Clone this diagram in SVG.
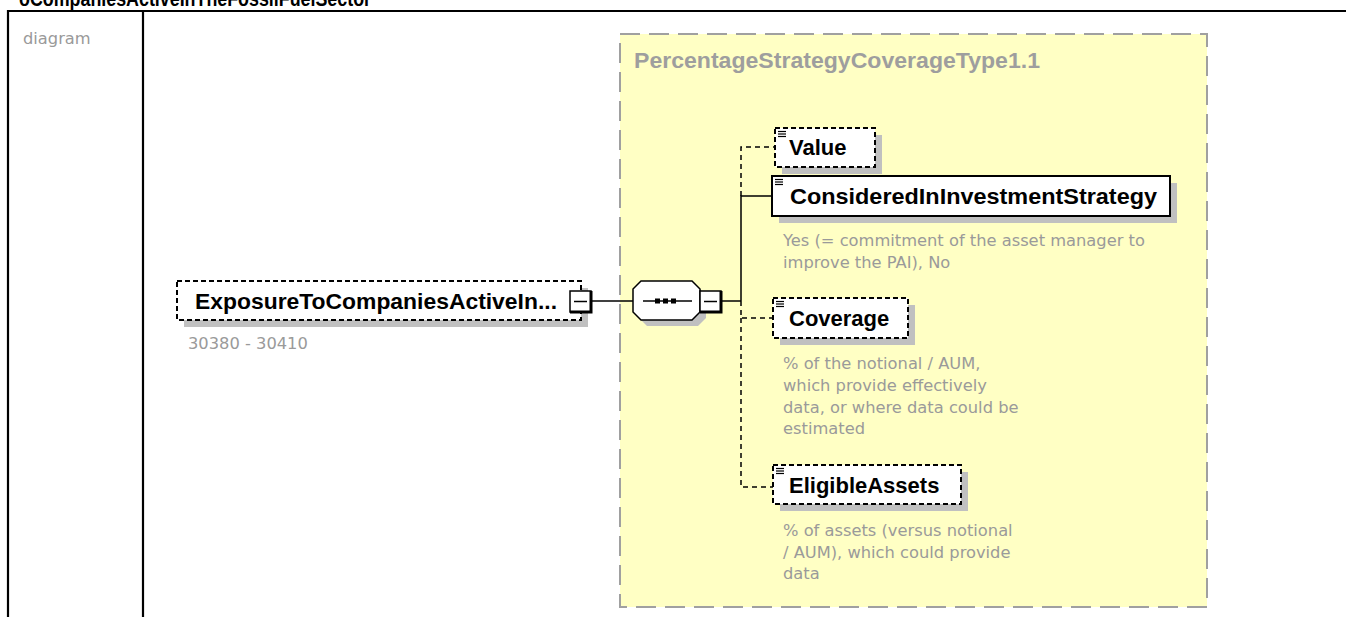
<svg xmlns="http://www.w3.org/2000/svg" width="1346" height="617" viewBox="0 0 1346 617">
<style>
.frame{fill:none;stroke:#000;stroke-width:2.2}
.lbl{font-family:"Liberation Sans",Arial,sans-serif;font-weight:bold;font-size:22px;fill:#000}
.gray{font-family:"DejaVu Sans",Verdana,sans-serif;font-size:16.3px;fill:#9a9a9a}
.title{font-family:"Liberation Sans",Arial,sans-serif;font-weight:bold;font-size:22px;fill:#9e9e9e}
.shadow{fill:#c0c0c0}
.box{fill:#fff;stroke:#000;stroke-width:2}
.dbox{fill:#fff;stroke:#000;stroke-width:2;stroke-dasharray:5 3}
.conn{fill:none;stroke:#000;stroke-width:1.5}
.dconn{fill:none;stroke:#000;stroke-width:1.5;stroke-dasharray:5 4}
.icon{stroke:#000;stroke-width:1.2}
</style>
<defs>
<g id="minus">
<rect x="0" y="0" width="21" height="21" fill="#fff" stroke="#000" stroke-width="1.5"/>
<polyline points="21,0 21,21 0,21" fill="none" stroke="#000" stroke-width="3"/>
<line x1="4" y1="10.5" x2="17" y2="10.5" stroke="#000" stroke-width="1.5"/>
</g>
<g id="ico">
<line x1="0" y1="0.5" x2="8" y2="0.5" class="icon"/>
<line x1="0" y1="3" x2="8" y2="3" class="icon"/>
<line x1="0" y1="5.5" x2="8" y2="5.5" class="icon"/>
</g>
</defs>
<rect width="1346" height="617" fill="#fff"/>
<g id="header">
<text x="19" y="6" class="lbl" font-size="19" textLength="352" lengthAdjust="spacingAndGlyphs">oCompaniesActiveInTheFossilFuelSector</text>
<line x1="8" y1="11" x2="1346" y2="11" class="frame"/>
<line x1="8" y1="10" x2="8" y2="617" class="frame"/>
<line x1="143" y1="10" x2="143" y2="617" class="frame"/>
<text x="23" y="44" class="gray">diagram</text>
</g>
<g id="type-PercentageStrategyCoverageType1.1">
<rect x="620" y="34" width="587" height="573" fill="#ffffc4" stroke="#a0a0a0" stroke-width="2" stroke-dasharray="20 9"/>
<text x="634" y="68" class="title" textLength="406" lengthAdjust="spacingAndGlyphs">PercentageStrategyCoverageType1.1</text>
</g>
<g id="connectors">
<line x1="591" y1="301" x2="633" y2="301" class="conn"/>
<line x1="721" y1="301" x2="741" y2="301" class="conn"/>
<polyline points="741,196 741,147 775,147" class="dconn"/>
<polyline points="741,301 741,196 772,196" class="conn"/>
<polyline points="741,301 741,318 773,318" class="dconn"/>
<polyline points="741,318 741,487 773,487" class="dconn"/>
</g>
<g id="node-ExposureToCompaniesActiveIn">
<rect x="184" y="288" width="404" height="39" class="shadow"/>
<rect x="177" y="281" width="404" height="39" class="dbox"/>
<text x="195" y="309" class="lbl" textLength="362" lengthAdjust="spacingAndGlyphs">ExposureToCompaniesActiveIn...</text>
<use href="#minus" x="570" y="291"/>
<text x="188" y="349" class="gray">30380 - 30410</text>
</g>
<g id="node-sequence">
<polygon points="647,287 698,287 706,295 706,318 698,326 647,326 639,318 639,295" class="shadow"/>
<polygon points="641,281 692,281 700,289 700,312 692,320 641,320 633,312 633,289" fill="#fff" stroke="#000" stroke-width="1.5"/>
<line x1="643" y1="301" x2="692" y2="301" stroke="#000" stroke-width="1.5"/>
<rect x="655" y="298.5" width="5" height="5" fill="#000"/>
<rect x="663" y="298.5" width="5" height="5" fill="#000"/>
<rect x="671" y="298.5" width="5" height="5" fill="#000"/>
<use href="#minus" x="700" y="291"/>
</g>
<g id="node-Value">
<rect x="782" y="135" width="100" height="39" class="shadow"/>
<rect x="775" y="128" width="100" height="39" class="dbox"/>
<use href="#ico" x="778" y="131"/>
<text x="789" y="155" class="lbl">Value</text>
</g>
<g id="node-ConsideredInInvestmentStrategy">
<rect x="779" y="183" width="398" height="40" class="shadow"/>
<rect x="772" y="176" width="398" height="40" class="box"/>
<use href="#ico" x="775" y="179"/>
<text x="790" y="204" class="lbl" textLength="367" lengthAdjust="spacingAndGlyphs">ConsideredInInvestmentStrategy</text>
<text x="783" y="246" class="gray">Yes (= commitment of the asset manager to</text>
<text x="783" y="268" class="gray">improve the PAI), No</text>
</g>
<g id="node-Coverage">
<rect x="780" y="305" width="135" height="40" class="shadow"/>
<rect x="773" y="298" width="135" height="40" class="dbox"/>
<use href="#ico" x="776" y="301"/>
<text x="789" y="326" class="lbl">Coverage</text>
<text x="783" y="369" class="gray">% of the notional / AUM,</text>
<text x="783" y="391" class="gray">which provide effectively</text>
<text x="783" y="413" class="gray">data, or where data could be</text>
<text x="783" y="434" class="gray">estimated</text>
</g>
<g id="node-EligibleAssets">
<rect x="780" y="472" width="188" height="39" class="shadow"/>
<rect x="773" y="465" width="188" height="39" class="dbox"/>
<use href="#ico" x="776" y="468"/>
<text x="789" y="493" class="lbl">EligibleAssets</text>
<text x="783" y="536" class="gray">% of assets (versus notional</text>
<text x="783" y="558" class="gray">/ AUM), which could provide</text>
<text x="783" y="579" class="gray">data</text>
</g>
</svg>
